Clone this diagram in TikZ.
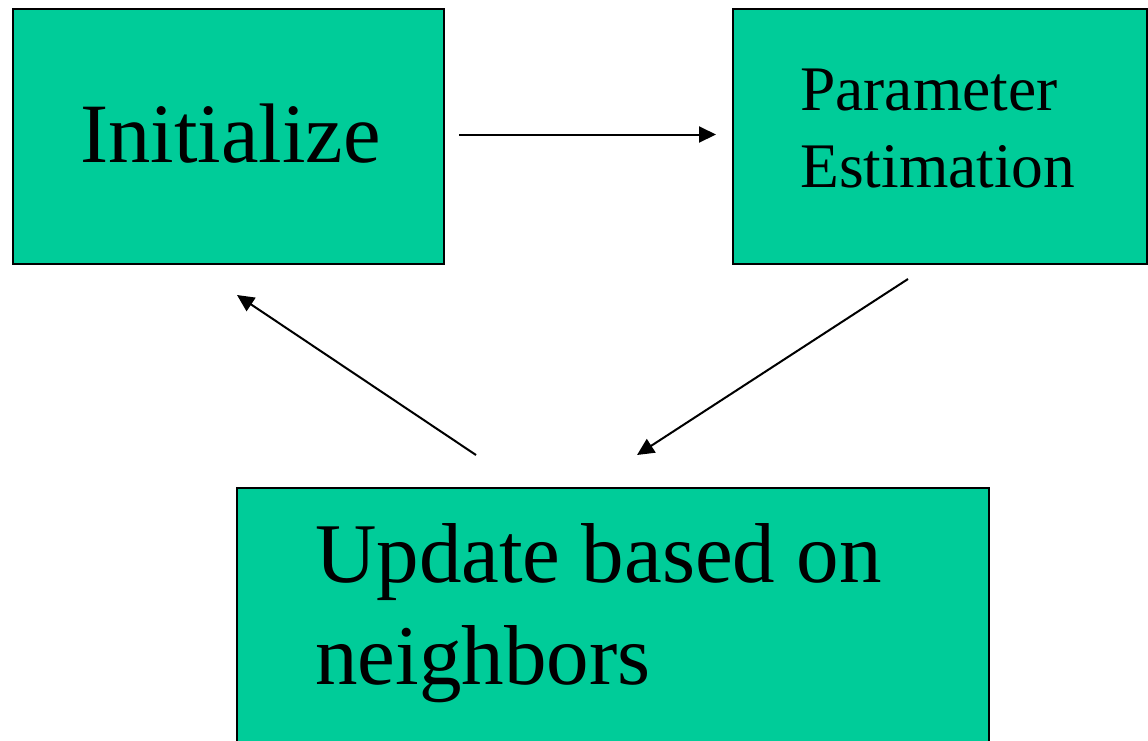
\documentclass[tikz,border=0pt]{standalone}
\usepackage{fontspec}
\setmainfont{Liberation Serif}
\usetikzlibrary{arrows.meta}
\definecolor{boxgreen}{RGB}{0,204,153}
\tikzset{
  box/.style={draw=black, line width=2pt, fill=boxgreen, inner sep=0pt},
  conn/.style={line width=2pt, -{Triangle[length=17pt,width=16pt]}},
  lbl/.style={anchor=base west, inner sep=0pt, align=left}
}
\begin{document}
\begin{tikzpicture}[x=1pt,y=-1pt]
\useasboundingbox (0,0) rectangle (1148,740);
\clip (0,0) rectangle (1148,740);
% boxes
\node[box, minimum width=431pt, minimum height=255pt, anchor=north west] (init) at (12,8) {};
\node[box, minimum width=414pt, minimum height=255pt, anchor=north west] (param) at (732,8) {};
\node[box, minimum width=752pt, minimum height=270pt, anchor=north west] (update) at (236,487) {};
% texts (base anchor = baseline of the last line)
\node[lbl, font=\fontsize{84.5}{84.5}\selectfont] (tinit) at (80,162) {Initialize};
\node[lbl, font=\fontsize{63.5}{77}\selectfont] (tparam) at (800,187) {Parameter\\Estimation};
\node[lbl, font=\fontsize{85}{102}\selectfont] (tupdate) at (315,684) {Update based on\\neighbors};
% arrow end points
\coordinate (a1s) at (459,134.5);
\coordinate (a1e) at (716,134.5);
\coordinate (a2s) at (908,279);
\coordinate (a2e) at (637,455);
\coordinate (a3s) at (476,455);
\coordinate (a3e) at (237,295);
\draw[conn] (a1s) -- (a1e);
\draw[conn] (a2s) -- (a2e);
\draw[conn] (a3s) -- (a3e);
\end{tikzpicture}
\end{document}
